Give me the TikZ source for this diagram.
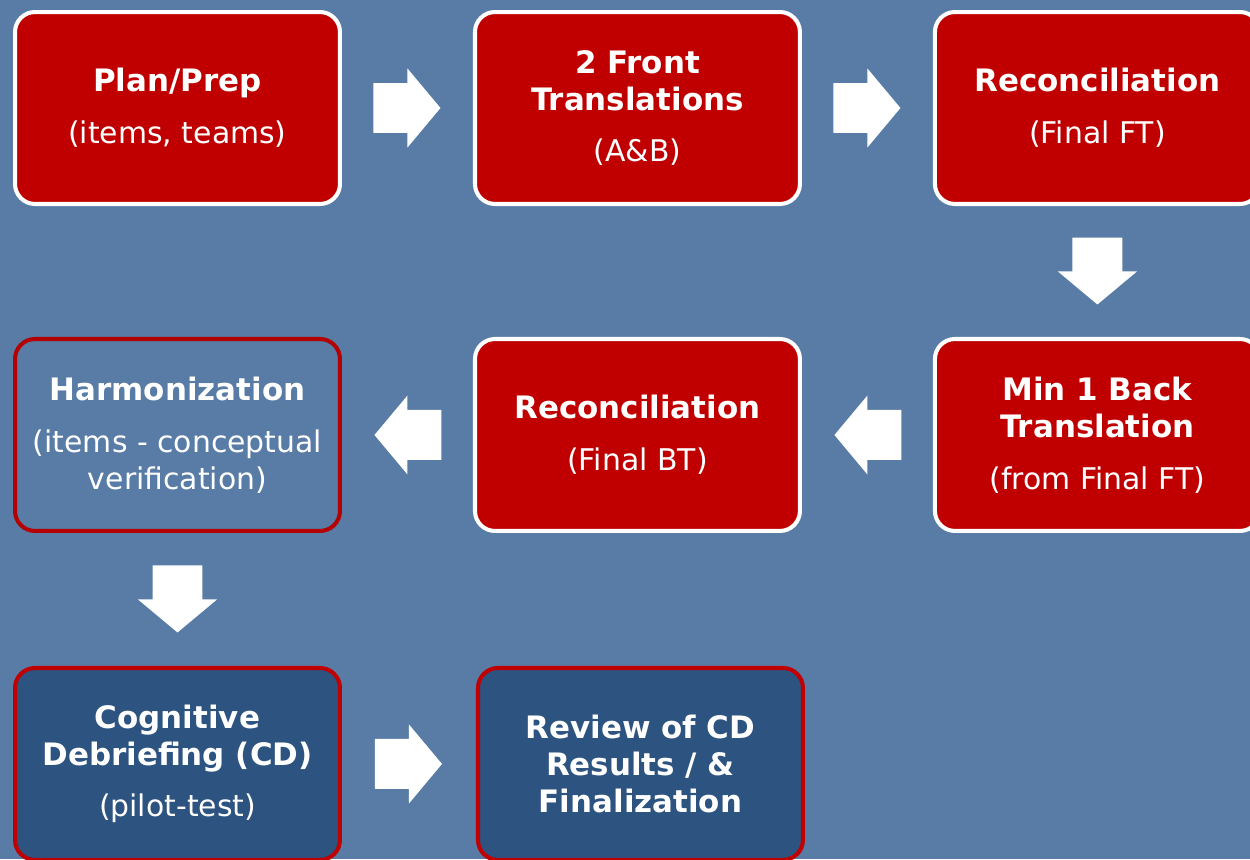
\documentclass[tikz,border=0pt]{standalone}
\usepackage{fontspec}
\setmainfont{DejaVu Sans}
\usetikzlibrary{positioning,calc}

\definecolor{slideblue}{RGB}{88,124,165}
\definecolor{boxred}{RGB}{192,0,0}
\definecolor{boxblue}{RGB}{45,83,128}
\definecolor{edgered}{RGB}{180,0,0}

\newcommand{\boxtitle}[1]{{\fontsize{17.6}{21}\selectfont\bfseries #1}}

\tikzset{
    stepbox/.style = {rounded corners=0.4cm, line width=2.3pt, minimum width=6.5cm, minimum height=3.84cm,
        inner sep=0pt, align=center, text=white, font=\fontsize{17}{21}\selectfont},
    redstep/.style = {stepbox, draw=white, fill=boxred},
    openstep/.style = {stepbox, draw=edgered},
    bluestep/.style = {stepbox, draw=boxred, fill=boxblue},
    blockarrow/.pic = {
        \fill[white] (-0.68cm,-0.5cm) -- (0cm,-0.5cm) -- (0cm,-0.79cm) -- (0.66cm,0cm)
            -- (0cm,0.79cm) -- (0cm,0.5cm) -- (-0.68cm,0.5cm) -- cycle;}
}

\begin{document}
\begin{tikzpicture}[x=0.02cm, y=-0.02cm, node distance=2.62cm]

% slide background
\fill[slideblue] (0,0) rectangle (1250,859);
\useasboundingbox (0,0) rectangle (1250,859);
\clip (0,0) rectangle (1250,859);

% first row
\node[redstep] (plan) at (177.5,108) {\boxtitle{Plan/Prep}\\[8.5pt](items, teams)};
\node[redstep, right=of plan] (front) {\boxtitle{2 Front}\\\boxtitle{Translations}\\[8.5pt](A\&B)};
\node[redstep, right=of front] (recft) {\boxtitle{Reconciliation}\\[8.5pt](Final FT)};

% second row
\node[redstep, below=of recft] (minft) {\boxtitle{Min 1 Back}\\\boxtitle{Translation}\\[8.5pt](from Final FT)};
\node[redstep, left=of minft] (recbt) {\boxtitle{Reconciliation}\\[8.5pt](Final BT)};
\node[openstep, left=of recbt] (harm) {\boxtitle{Harmonization}\\[8.5pt](items - conceptual\\verification)};

% third row
\node[bluestep, below=2.66cm of harm] (cog) {\boxtitle{Cognitive}\\\boxtitle{Debriefing (CD)}\\[8.5pt](pilot-test)};
\node[bluestep, right=2.68cm of cog] (review) {\boxtitle{Review of CD}\\\boxtitle{Results / \&}\\\boxtitle{Finalization}};

% block arrows
\pic at ($(plan.east)!0.5!(front.west)$) {blockarrow};
\pic at ($(front.east)!0.5!(recft.west)$) {blockarrow};
\pic[rotate=-90] at ($(recft.south)!0.5!(minft.north)$) {blockarrow};
\pic[rotate=180] at ($(minft.west)!0.5!(recbt.east)$) {blockarrow};
\pic[rotate=180] at ($(recbt.west)!0.5!(harm.east)$) {blockarrow};
\pic[rotate=-90] at ($(harm.south)!0.5!(cog.north)$) {blockarrow};
\pic at ($(cog.east)!0.5!(review.west)$) {blockarrow};

\end{tikzpicture}
\end{document}
